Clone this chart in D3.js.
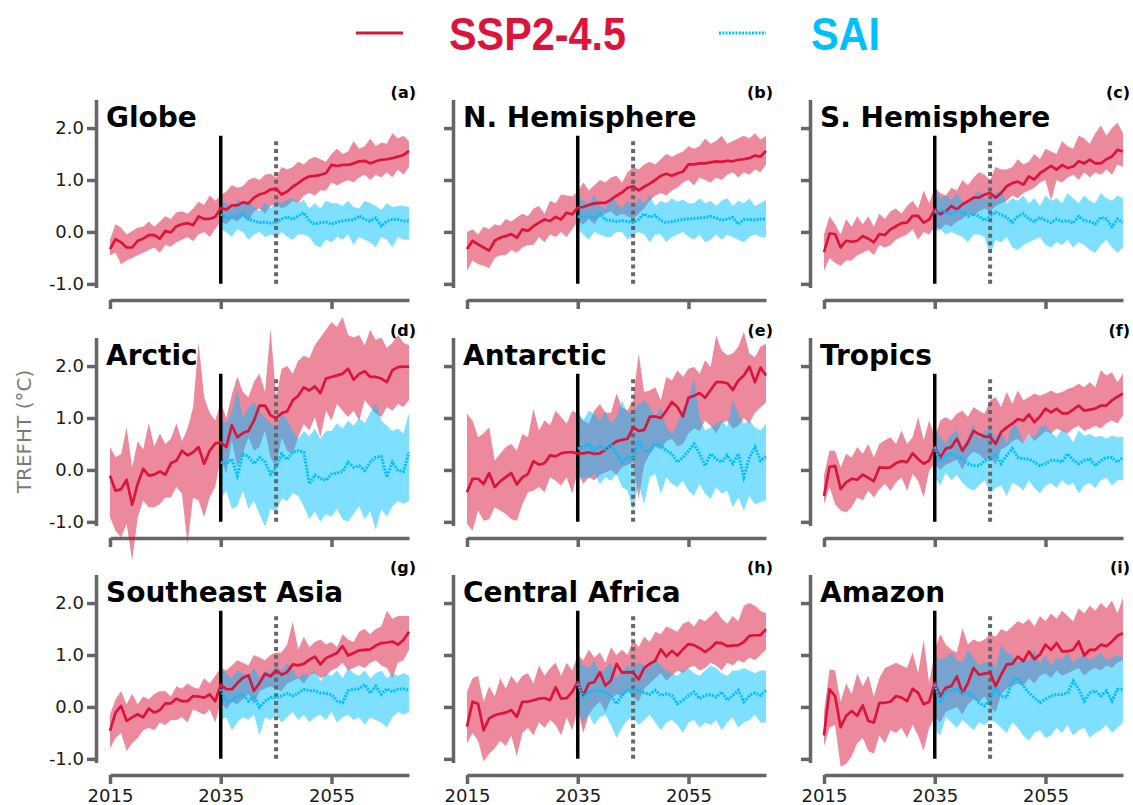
<!DOCTYPE html>
<html>
<head>
<meta charset="utf-8">
<script src="https://cdn.jsdelivr.net/npm/d3@7"></script>
<style>
  body { margin: 0; background: #fff; }
  svg { display: block; }
</style>
</head>
<body>
<svg id="chart" width="1133" height="805"></svg>
<script>
// ---- Years and ticks ----
const startYear = 2015, endYear = 2069, saiStart = 2035, saiFullYear = 2045;
const years = d3.range(startYear, endYear + 1);      // SSP2-4.5 runs
const saiYears = d3.range(saiStart, endYear + 1);    // SAI runs
const xTickYears = [2015, 2035, 2055];
const yTickValues = [-1, 0, 1, 2];

const regionNames = ["Globe", "N. Hemisphere", "S. Hemisphere", "Arctic", "Antarctic", "Tropics",
                     "Southeast Asia", "Central Africa", "Amazon"];
const panelLetters = ["(a)", "(b)", "(c)", "(d)", "(e)", "(f)", "(g)", "(h)", "(i)"];

// ---- Globe ----
const globeSspMean = [-0.33,-0.14,-0.20,-0.30,-0.30,-0.17,-0.13,-0.06,-0.06,-0.13, 0.02,-0.01,0.11,0.15,0.17,0.13,0.30,0.25,0.25,0.29, 0.46,0.43,0.51,0.51,0.57,0.55,0.66,0.72,0.75,0.82, 0.83,0.72,0.78,0.87,0.94,1.02,1.07,1.08,1.10,1.13, 1.29,1.27,1.29,1.29,1.32,1.36,1.37,1.32,1.36,1.39, 1.40,1.42,1.45,1.48,1.56];
const globeSspHigh = [-0.15,0.15,0.08,-0.05,0.02,0.08,0.10,0.20,0.10,0.20, 0.30,0.25,0.38,0.40,0.35,0.45,0.58,0.52,0.70,0.60, 0.70,0.78,0.90,0.85,0.88,1.00,1.05,1.00,1.10,1.12, 1.05,1.25,1.20,1.25,1.35,1.30,1.40,1.45,1.40,1.35, 1.50,1.60,1.50,1.55,1.75,1.60,1.65,1.80,1.65,1.72, 1.70,1.90,1.80,1.85,1.75];
const globeSspLow = [-0.45,-0.40,-0.62,-0.55,-0.50,-0.45,-0.40,-0.35,-0.30,-0.40, -0.25,-0.28,-0.20,-0.15,-0.10,-0.18,-0.05,0.00,-0.10,0.05, 0.20,0.15,0.25,0.20,0.30,0.20,0.40,0.45,0.35,0.50, 0.55,0.45,0.50,0.60,0.55,0.70,0.75,0.70,0.80,0.80, 0.95,0.90,0.95,1.00,0.95,1.05,1.10,1.00,1.10,1.05, 1.15,1.05,1.20,1.10,1.25];
const globeSaiMean = [0.34,0.27,0.30,0.29,0.34,0.25,0.21,0.18,0.19,0.17, 0.18,0.25,0.29,0.24,0.31,0.37,0.21,0.15,0.18,0.19, 0.15,0.19,0.21,0.23,0.23,0.31,0.24,0.21,0.27,0.11, 0.21,0.24,0.24,0.21,0.21];
const globeSaiHigh = [0.60,0.55,0.45,0.62,0.55,0.60,0.48,0.40,0.58,0.45, 0.60,0.55,0.62,0.65,0.55,0.62,0.45,0.55,0.45,0.60, 0.55,0.55,0.50,0.60,0.48,0.45,0.60,0.55,0.50,0.42, 0.55,0.48,0.50,0.50,0.48];
const globeSaiLow = [0.05,0.00,-0.10,0.05,0.00,-0.15,-0.05,0.00,-0.10,-0.05, -0.10,0.00,-0.10,-0.15,-0.05,-0.05,-0.10,-0.25,-0.30,-0.15, -0.20,-0.10,-0.15,-0.05,-0.25,-0.10,-0.15,-0.20,-0.30,-0.10, -0.15,-0.30,-0.10,-0.15,-0.15];

// ---- N. Hemisphere ----
const nhSspMean = [-0.33,-0.17,-0.24,-0.30,-0.36,-0.17,-0.11,-0.08,-0.04,-0.11, 0.05,0.02,0.11,0.18,0.24,0.21,0.29,0.24,0.37,0.34, 0.47,0.48,0.52,0.55,0.56,0.56,0.62,0.70,0.76,0.85, 0.88,0.80,0.87,0.93,1.00,1.08,1.12,1.08,1.13,1.16, 1.30,1.30,1.32,1.32,1.34,1.36,1.35,1.37,1.36,1.39, 1.40,1.42,1.47,1.45,1.56];
const nhSspHigh = [0.00,0.05,-0.05,0.10,0.05,0.15,0.12,0.25,0.20,0.28, 0.35,0.30,0.45,0.50,0.35,0.60,0.55,0.72,0.70,0.68, 0.78,0.95,0.80,0.90,1.00,0.95,1.05,1.08,0.95,1.15, 1.25,1.20,1.30,1.35,1.30,1.40,1.50,1.45,1.50,1.55, 1.65,1.60,1.65,1.80,1.70,1.75,1.85,1.70,1.75,1.80, 1.85,1.80,1.90,1.78,1.85];
const nhSspLow = [-0.75,-0.55,-0.62,-0.65,-0.70,-0.50,-0.45,-0.45,-0.35,-0.40, -0.30,-0.25,-0.25,-0.10,-0.20,-0.05,-0.10,0.00,-0.10,0.05, 0.20,0.15,0.25,0.15,0.30,0.35,0.40,0.30,0.35,0.30, 0.25,0.35,0.45,0.60,0.70,0.75,0.70,0.80,0.85,0.95, 1.00,0.90,1.05,1.00,0.95,1.05,1.00,1.10,1.15,1.05, 1.15,1.10,1.20,1.15,1.30];
const nhSaiMean = [0.30,0.28,0.30,0.26,0.35,0.23,0.22,0.20,0.22,0.20, 0.18,0.24,0.35,0.28,0.32,0.22,0.18,0.20,0.22,0.24, 0.25,0.26,0.27,0.28,0.30,0.27,0.22,0.25,0.28,0.15, 0.24,0.24,0.23,0.25,0.25];
const nhSaiHigh = [0.70,0.60,0.55,0.72,0.50,0.45,0.70,0.55,0.45,0.60, 0.50,0.65,0.55,0.70,0.50,0.60,0.55,0.65,0.58,0.62, 0.55,0.55,0.65,0.55,0.60,0.50,0.60,0.65,0.50,0.60, 0.55,0.65,0.50,0.55,0.62];
const nhSaiLow = [0.05,-0.05,-0.15,0.00,-0.05,-0.10,-0.10,0.00,0.00,-0.15, -0.05,0.00,-0.05,-0.20,-0.05,-0.05,-0.20,-0.10,-0.05,0.00, -0.10,-0.15,-0.05,-0.20,-0.15,-0.05,-0.15,-0.05,-0.10,-0.15, -0.20,-0.10,-0.05,-0.10,-0.10];

// ---- S. Hemisphere ----
const shSspMean = [-0.39,-0.03,-0.04,-0.30,-0.17,-0.19,-0.17,-0.08,-0.13,-0.20, -0.04,-0.06,0.05,0.11,0.17,0.18,0.31,0.31,0.18,0.24, 0.43,0.34,0.40,0.50,0.43,0.53,0.59,0.66,0.66,0.72, 0.75,0.66,0.75,0.88,0.94,0.97,0.91,1.07,1.01,1.13, 1.20,1.27,1.20,1.29,1.23,1.26,1.36,1.32,1.39,1.32, 1.32,1.40,1.45,1.58,1.55];
const shSspHigh = [-0.05,0.30,0.15,-0.05,0.25,0.10,0.30,0.15,0.30,0.10, 0.35,0.25,0.40,0.45,0.35,0.50,0.60,0.45,0.80,0.55, 0.85,0.75,0.70,0.85,0.80,1.00,0.90,1.05,1.15,1.10, 1.00,1.25,1.20,1.20,1.25,1.40,1.30,1.35,1.50,1.40, 1.60,1.55,1.50,1.75,1.65,1.60,1.85,1.80,1.70,1.90, 2.05,1.85,2.00,2.10,1.90];
const shSspLow = [-0.75,-0.50,-0.60,-0.65,-0.55,-0.55,-0.45,-0.40,-0.35,-0.45, -0.25,-0.30,-0.25,-0.15,-0.10,-0.05,0.05,-0.15,0.00,-0.05, 0.10,0.05,0.15,0.10,0.20,0.25,0.35,0.30,0.40,0.45, 0.40,0.50,0.55,0.60,0.70,0.65,0.75,0.80,0.85,0.95, 1.00,0.60,1.00,0.95,1.05,1.10,1.00,1.15,1.05,1.15, 1.10,1.20,1.10,1.30,1.25];
const shSaiMean = [0.37,0.42,0.38,0.35,0.40,0.38,0.30,0.35,0.30,0.22, 0.30,0.38,0.33,0.28,0.18,0.30,0.35,0.25,0.20,0.28, 0.22,0.18,0.25,0.20,0.22,0.17,0.30,0.22,0.20,0.15, 0.28,0.25,0.10,0.25,0.18];
const shSaiHigh = [0.90,0.65,0.70,0.60,0.75,0.60,0.55,0.70,0.80,0.65, 0.60,0.75,0.80,0.55,0.65,0.60,0.70,0.55,0.65,0.50, 0.70,0.60,0.65,0.55,0.75,0.65,0.55,0.70,0.60,0.55, 0.75,0.65,0.60,0.70,0.65];
const shSaiLow = [0.00,0.05,-0.05,0.00,-0.05,-0.10,-0.20,-0.05,-0.05,-0.10, -0.45,-0.15,-0.20,-0.10,-0.30,-0.35,-0.25,-0.20,-0.15,-0.10, -0.25,-0.30,-0.20,-0.25,-0.15,-0.30,-0.20,-0.25,-0.35,-0.40, -0.25,-0.15,-0.30,-0.40,-0.30];

// ---- Arctic ----
const arcticSspMean = [-0.11,-0.40,-0.37,-0.19,-0.67,-0.27,0.02,-0.11,-0.09,-0.03, -0.09,0.13,0.18,0.37,0.28,0.34,0.44,0.12,0.37,0.51, 0.53,0.44,0.86,0.63,0.71,0.75,0.95,1.24,1.24,1.05, 1.00,1.09,1.13,1.34,1.43,1.59,1.53,1.61,1.48,1.76, 1.79,1.82,1.85,1.95,1.74,1.85,1.90,1.79,1.79,1.76, 1.69,1.92,1.98,1.99,1.99];
const arcticSspHigh = [0.44,0.25,0.30,0.82,0.05,0.55,0.40,0.90,0.45,0.70, 0.50,0.60,0.90,0.55,0.80,1.20,2.45,1.40,1.10,0.95, 1.30,1.00,1.45,1.80,1.50,1.40,1.70,1.85,1.50,2.72, 1.40,1.95,2.00,1.85,2.10,2.20,2.15,2.40,2.55,2.70, 2.85,2.75,2.95,2.60,2.55,2.60,2.40,2.70,2.50,2.55, 2.35,2.45,2.60,2.45,2.40];
const arcticSspLow = [-0.91,-1.17,-1.30,-1.04,-1.75,-0.91,-0.59,-0.72,-0.72,-0.66, -0.53,-0.53,-0.33,-0.46,-1.43,-0.53,-0.59,-0.91,-0.53,-0.33, 0.24,-0.08,0.57,0.05,0.31,0.63,0.37,0.44,0.76,0.24, 0.05,0.63,0.37,0.31,0.63,0.89,0.76,1.02,0.63,1.14, 0.95,1.27,1.14,1.02,1.14,0.95,1.34,1.21,1.08,1.02, 1.21,1.14,1.27,1.21,1.34];
const arcticSaiMean = [0.15,0.12,0.21,-0.11,0.31,0.26,0.12,0.24,0.15,-0.08, 0.05,0.31,0.20,0.34,0.37,0.34,-0.27,-0.10,-0.16,-0.20, -0.08,-0.06,-0.03,0.15,0.05,0.08,-0.01,0.15,0.24,0.26, -0.14,0.15,-0.01,-0.03,0.34];
const arcticSaiHigh = [1.00,0.90,1.10,1.55,1.00,1.20,1.30,1.15,1.00,0.90, 0.80,1.10,0.95,0.75,0.60,0.75,0.65,0.80,0.60,0.75, 0.75,0.90,0.80,0.95,0.85,1.00,0.90,1.10,1.30,0.95, 0.85,0.75,0.80,0.70,1.10];
const arcticSaiLow = [-0.55,-0.40,-0.75,-0.70,-0.40,-0.75,-0.60,-0.85,-1.10,-0.75, -0.80,-0.55,-0.60,-0.45,-0.50,-0.70,-0.95,-0.80,-1.00,-0.85, -0.90,-0.75,-0.95,-1.00,-0.85,-0.70,-0.95,-0.80,-1.15,-0.75, -0.90,-0.70,-0.60,-0.65,-0.60];

// ---- Antarctic ----
const antarcticSspMean = [-0.43,-0.17,-0.17,-0.27,-0.06,-0.33,-0.22,-0.14,-0.06,-0.28, -0.14,-0.08,0.17,0.10,0.13,0.28,0.26,0.32,0.34,0.34, 0.32,0.32,0.34,0.31,0.32,0.39,0.47,0.55,0.58,0.60, 0.82,0.75,0.77,1.02,1.03,1.00,1.14,1.31,1.21,1.03, 1.39,1.43,1.48,1.39,1.54,1.69,1.69,1.67,1.54,1.72, 1.82,1.99,1.69,1.97,1.82];
const antarcticSspHigh = [1.08,0.95,0.63,0.70,0.82,0.18,0.31,0.44,0.50,0.37, 0.69,0.63,1.18,0.76,0.95,0.86,1.14,1.02,0.89,1.14, 1.08,0.95,0.89,1.14,1.27,1.10,1.10,1.47,1.20,1.15, 1.34,2.24,1.50,1.53,1.59,1.34,1.79,1.72,1.92,1.79, 1.95,1.98,1.85,2.11,1.98,2.59,2.30,2.21,2.24,2.37, 2.66,2.24,2.17,2.37,2.43];
const antarcticSspLow = [-1.04,-1.17,-0.78,-0.98,-0.95,-0.72,-0.78,-0.85,-0.95,-0.98, -0.66,-0.43,-0.40,-0.33,-0.43,-0.14,-0.21,-0.30,-0.14,-0.46, -0.01,-0.27,-0.14,-0.20,-0.10,-0.05,0.00,-0.10,0.05,0.10, 0.15,-0.55,0.10,0.30,0.45,0.40,0.55,0.60,0.45,0.50, 0.70,0.80,0.75,0.95,0.85,0.70,0.90,0.95,0.80,0.85, 1.00,0.90,1.10,1.20,1.30];
const antarcticSaiMean = [0.41,0.44,0.50,0.37,0.47,0.37,0.50,0.31,0.15,0.24, 0.21,0.57,0.37,0.37,0.50,0.47,0.37,0.31,0.15,0.24, 0.37,0.50,0.31,0.08,0.31,0.21,0.15,0.28,0.12,0.31, -0.14,0.24,0.44,0.18,0.26];
const antarcticSaiHigh = [1.14,0.95,1.14,1.08,0.95,1.14,0.89,1.02,1.34,1.08, 1.14,1.27,1.34,1.21,1.02,1.21,0.82,0.69,0.89,1.21, 1.34,1.79,1.02,0.76,0.82,0.89,0.95,0.82,1.34,1.08, 0.89,0.95,0.82,0.76,0.89];
const antarcticSaiLow = [-0.21,-0.14,-0.17,-0.08,-0.27,-0.14,-0.21,-0.08,-0.33,-0.40, -0.78,-0.27,-0.66,-0.14,-0.08,-0.46,-0.14,-0.27,-0.33,-0.21, -0.40,-0.50,-0.27,-0.46,-0.56,-0.33,-0.46,-0.40,-0.72,-0.53, -0.78,-0.50,-0.66,-0.62,-0.59];

// ---- Tropics ----
const tropicsSspMean = [-0.50,0.06,0.08,-0.37,-0.24,-0.17,-0.19,-0.09,-0.15,-0.22, 0.05,0.04,0.05,0.13,0.17,0.15,0.32,0.21,0.12,0.18, 0.44,0.24,0.41,0.44,0.60,0.37,0.53,0.75,0.69,0.64, 0.63,0.50,0.73,0.82,0.89,0.98,0.95,1.07,0.92,1.03, 1.18,1.11,1.18,1.09,1.09,1.16,1.24,1.14,1.16,1.18, 1.24,1.24,1.34,1.41,1.47];
const tropicsSspHigh = [-0.10,0.37,0.37,0.05,0.31,0.24,0.44,0.31,0.50,0.24, 0.50,0.57,0.63,0.50,0.76,0.50,0.63,1.02,0.57,0.95, 0.63,0.95,1.02,0.95,1.08,1.14,1.02,1.21,1.14,1.08, 1.34,1.40,1.21,1.50,1.27,1.53,1.34,1.40,1.47,1.43, 1.47,1.53,1.47,1.50,1.56,1.59,1.66,1.59,1.69,1.59, 1.92,1.82,1.88,1.69,1.85];
const tropicsSspLow = [-0.66,-0.33,-0.66,-0.78,-0.82,-0.72,-0.53,-0.59,-0.40,-0.53, -0.37,-0.27,-0.40,-0.24,-0.14,-0.40,-0.08,-0.21,-0.53,-0.01, 0.12,0.00,0.10,0.15,0.20,0.00,0.25,0.35,0.30,0.20, 0.25,0.10,0.40,0.45,0.55,0.60,0.50,0.70,0.55,0.65, 0.75,0.70,0.80,0.75,0.70,0.80,0.85,0.75,0.80,0.85, 0.80,0.90,0.95,0.90,1.05];
const tropicsSaiMean = [0.44,0.15,0.28,0.31,0.26,0.21,0.12,0.08,0.08,0.18, 0.21,0.31,0.12,0.28,0.41,0.24,0.21,0.21,0.15,0.08, 0.12,0.18,0.19,0.15,0.31,0.19,0.12,0.18,0.21,0.08, 0.18,0.24,0.24,0.15,0.24];
const tropicsSaiHigh = [0.82,0.63,0.50,0.69,0.76,0.44,0.63,0.89,0.57,0.76, 0.79,0.63,0.76,0.50,0.89,0.82,0.50,0.69,0.63,0.82, 0.86,0.73,0.63,0.79,0.69,0.53,0.76,0.66,0.69,0.63, 0.66,0.60,0.66,0.63,0.64];
const tropicsSaiLow = [-0.14,-0.30,-0.05,-0.20,-0.10,-0.25,-0.35,-0.40,-0.30,-0.20, -0.45,-0.35,-0.30,-0.50,-0.25,-0.30,-0.40,-0.20,-0.35,-0.45, -0.30,-0.25,-0.35,-0.20,-0.30,-0.25,-0.45,-0.30,-0.25,-0.35, -0.20,-0.15,-0.30,-0.20,-0.20];

// ---- Southeast Asia ----
const seAsiaSspMean = [-0.46,-0.11,0.02,-0.27,-0.20,-0.14,-0.20,-0.03,-0.11,-0.06, 0.07,0.07,0.16,0.11,0.11,0.21,0.20,0.18,0.24,0.11, 0.43,0.34,0.34,0.46,0.56,0.61,0.31,0.46,0.64,0.59, 0.71,0.62,0.67,0.82,0.80,0.83,0.91,0.97,0.82,0.94, 0.99,1.04,1.17,0.99,1.04,1.09,1.10,1.11,1.18,1.23, 1.24,1.26,1.20,1.29,1.45];
const seAsiaSspHigh = [-0.15,0.15,0.30,0.05,0.25,0.05,0.20,0.15,0.25,0.30, 0.30,0.20,0.40,0.35,0.45,0.38,0.35,0.55,0.45,0.60, 0.75,0.70,0.80,0.90,0.85,0.80,1.00,0.95,0.90,1.00, 1.05,1.05,1.20,1.64,1.10,1.35,1.15,1.25,1.30,1.20, 1.25,1.15,1.40,1.30,1.25,1.45,1.50,1.40,1.50,1.55, 1.85,1.70,1.75,1.75,1.75];
const seAsiaSspLow = [-0.80,-0.60,-0.50,-0.85,-0.70,-0.60,-0.45,-0.40,-0.45,-0.30, -0.35,-0.25,-0.25,-0.20,-0.30,-0.05,-0.10,-0.15,-0.05,-0.30, 0.10,-0.05,0.10,0.05,0.15,0.25,0.05,0.30,0.35,0.40, 0.35,0.30,0.45,0.50,0.55,0.45,0.60,0.65,0.55,0.60, 0.70,0.75,0.85,0.70,0.75,0.80,0.75,0.85,0.90,0.80, 0.75,0.55,0.85,0.90,1.10];
const seAsiaSaiMean = [0.34,0.11,0.11,0.21,0.24,0.11,0.21,-0.01,0.11,0.18, 0.18,0.21,0.26,0.21,0.27,0.34,0.31,0.31,0.27,0.26, 0.24,0.11,0.08,0.31,0.34,0.35,0.43,0.27,0.40,0.24, 0.35,0.29,0.34,0.35,0.32];
const seAsiaSaiHigh = [0.75,0.65,0.55,0.70,0.65,0.60,0.75,0.55,0.70,0.65, 0.80,0.70,0.85,0.70,0.55,0.65,0.60,0.70,0.50,0.65, 0.60,0.70,0.55,0.75,0.65,0.60,0.70,0.55,0.65,0.70, 0.55,0.65,0.60,0.65,0.60];
const seAsiaSaiLow = [-0.25,-0.20,-0.45,-0.30,-0.20,-0.25,-0.15,-0.55,-0.20,-0.25, -0.15,-0.30,-0.20,-0.10,-0.25,-0.15,-0.30,-0.20,-0.15,-0.25, -0.10,-0.30,-0.20,-0.15,-0.25,-0.20,-0.35,-0.20,-0.25,-0.30, -0.40,-0.20,-0.10,-0.15,-0.10];

// ---- Central Africa ----
const cAfricaSspMean = [-0.38,0.10,0.06,-0.45,-0.22,-0.16,-0.13,-0.11,-0.06,-0.19, 0.10,0.10,0.13,0.16,0.17,0.13,0.38,0.16,0.17,0.29, 0.48,0.22,0.45,0.48,0.67,0.41,0.51,0.83,0.66,0.67, 0.66,0.53,0.75,0.83,0.89,1.11,0.97,1.08,0.99,1.11, 1.21,1.19,1.13,1.06,1.13,1.24,1.23,1.17,1.18,1.19, 1.25,1.37,1.38,1.38,1.50];
const cAfricaSspHigh = [0.29,0.55,0.60,0.10,0.40,0.20,0.55,0.35,0.60,0.45, 0.60,0.65,0.45,0.80,0.60,0.75,0.85,0.60,0.85,0.70, 1.00,0.90,1.10,0.95,1.05,0.85,1.15,1.00,1.10,1.00, 1.30,1.15,1.35,1.25,1.45,1.40,1.55,1.50,1.45,1.60, 1.65,1.55,1.70,1.65,1.75,1.85,1.70,1.60,1.75,1.65, 1.95,2.00,1.95,1.85,1.80];
const cAfricaSspLow = [-0.70,-0.50,-0.65,-1.05,-0.90,-0.80,-0.65,-0.75,-0.55,-0.95, -0.50,-0.40,-0.55,-0.30,-0.40,-0.25,-0.35,-0.55,-0.20,-0.45, -0.05,-0.50,-0.15,0.00,0.10,-0.10,0.15,0.25,0.20,0.30, 0.20,0.10,0.35,0.45,0.55,0.65,0.50,0.60,0.70,0.65, 0.75,0.80,0.70,0.75,0.85,0.80,0.70,0.85,0.80,0.90, 0.85,0.95,0.90,1.00,1.10];
const cAfricaSaiMean = [0.45,0.19,0.29,0.32,0.30,0.29,0.22,0.06,0.22,0.32, 0.34,0.32,0.27,0.24,0.32,0.22,0.25,0.22,0.06,0.13, 0.22,0.29,0.16,0.22,0.24,0.19,0.29,0.13,0.22,0.32, 0.10,0.22,0.27,0.22,0.32];
const cAfricaSaiHigh = [0.95,0.80,0.75,0.90,0.65,0.75,0.85,0.55,0.70,0.80, 0.75,0.85,0.80,0.75,0.95,0.80,0.70,0.65,0.60,0.70, 0.75,0.65,0.60,0.70,0.80,0.75,0.65,0.60,0.70,0.70, 0.75,0.70,0.65,0.70,0.70];
const cAfricaSaiLow = [-0.05,-0.30,-0.15,-0.35,-0.20,-0.15,-0.35,-0.60,-0.40,-0.25, -0.20,-0.35,-0.25,-0.15,-0.30,-0.45,-0.30,-0.25,-0.35,-0.50, -0.30,-0.25,-0.40,-0.30,-0.35,-0.25,-0.45,-0.30,-0.20,-0.40, -0.30,-0.25,-0.15,-0.30,-0.30];

// ---- Amazon ----
const amazonSspMean = [-0.55,0.34,0.21,-0.39,-0.17,-0.08,-0.17,0.03,-0.27,-0.30, 0.08,0.08,0.10,0.21,0.18,0.11,0.35,0.27,0.05,0.10, 0.46,0.20,0.37,0.40,0.59,0.26,0.46,0.75,0.62,0.64, 0.66,0.40,0.62,0.82,0.83,0.97,0.88,1.07,0.92,1.01, 1.20,1.10,1.23,1.07,1.07,1.10,1.26,0.99,1.10,1.10, 1.20,1.17,1.26,1.37,1.42];
const amazonSspHigh = [-0.10,0.72,0.70,0.10,0.45,0.25,0.65,0.40,0.60,0.20, 0.55,0.75,0.80,0.85,0.80,0.75,1.05,0.65,1.30,0.45, 1.10,1.40,1.20,1.10,1.05,1.52,1.20,1.30,1.25,1.30, 1.40,1.35,1.50,1.45,1.55,1.65,1.60,1.70,1.55,1.75, 1.65,1.80,1.70,1.85,1.75,1.65,1.90,1.80,1.95,1.85, 2.00,1.90,2.05,1.80,2.10];
const amazonSspLow = [-0.75,-0.40,-0.35,-1.15,-1.10,-0.95,-0.70,-0.60,-0.85,-0.90, -0.55,-0.70,-0.45,-0.50,-0.40,-0.60,-0.35,-0.55,-0.85,-0.40, -0.20,-0.30,-0.10,-0.05,0.00,-0.15,0.05,0.15,0.10,0.20, 0.00,-0.10,0.25,0.35,0.40,0.45,0.40,0.55,0.45,0.60, 0.65,0.55,0.70,0.60,0.65,0.70,0.75,0.60,0.70,0.75, 0.70,0.80,0.75,0.85,0.90];
const amazonSaiMean = [0.43,0.08,0.31,0.31,0.34,0.27,0.27,0.21,0.08,0.02, 0.15,0.37,0.21,0.18,0.50,0.56,0.40,0.27,0.18,0.08, 0.15,0.21,0.24,0.24,0.27,0.50,0.34,0.11,0.27,0.31, 0.21,0.31,0.11,0.34,0.34];
const amazonSaiHigh = [1.00,0.90,0.95,1.05,0.90,0.85,1.10,0.95,0.80,0.85, 0.90,0.75,1.20,1.05,1.00,0.85,0.95,0.90,1.10,0.85, 1.00,0.80,0.95,0.90,1.05,0.85,0.95,1.00,0.90,0.95, 1.05,0.90,0.95,1.00,0.95];
const amazonSaiLow = [-0.45,-0.55,-0.20,-0.30,-0.40,-0.25,-0.35,-0.45,-0.30,-0.35, -0.25,-0.30,-0.40,-0.50,-0.30,-0.40,-0.55,-0.65,-0.50,-0.45, -0.60,-0.55,-0.40,-0.50,-0.35,-0.55,-0.45,-0.40,-0.60,-0.50, -0.45,-0.35,-0.50,-0.40,-0.30];

// ---- Panel table built from the arrays above ----
const sspSeries = [
  [globeSspMean, globeSspLow, globeSspHigh], [nhSspMean, nhSspLow, nhSspHigh], [shSspMean, shSspLow, shSspHigh],
  [arcticSspMean, arcticSspLow, arcticSspHigh], [antarcticSspMean, antarcticSspLow, antarcticSspHigh], [tropicsSspMean, tropicsSspLow, tropicsSspHigh],
  [seAsiaSspMean, seAsiaSspLow, seAsiaSspHigh], [cAfricaSspMean, cAfricaSspLow, cAfricaSspHigh], [amazonSspMean, amazonSspLow, amazonSspHigh]
];
const saiSeries = [
  [globeSaiMean, globeSaiLow, globeSaiHigh], [nhSaiMean, nhSaiLow, nhSaiHigh], [shSaiMean, shSaiLow, shSaiHigh],
  [arcticSaiMean, arcticSaiLow, arcticSaiHigh], [antarcticSaiMean, antarcticSaiLow, antarcticSaiHigh], [tropicsSaiMean, tropicsSaiLow, tropicsSaiHigh],
  [seAsiaSaiMean, seAsiaSaiLow, seAsiaSaiHigh], [cAfricaSaiMean, cAfricaSaiLow, cAfricaSaiHigh], [amazonSaiMean, amazonSaiLow, amazonSaiHigh]
];
const toRows = (yrs, [mean, low, high]) => yrs.map((yr, i) => ({ year: yr, mean: mean[i], low: low[i], high: high[i] }));
const panels = regionNames.map((name, k) => ({
  name, letter: panelLetters[k],
  ssp: toRows(years, sspSeries[k]),
  sai: toRows(saiYears, saiSeries[k])
}));

// ---- Styling ----
const RED = "#dc143c", BLUE = "#00bfff", SPINE = "#666666";
const TICK_FONT = "'DejaVu Sans', 'Liberation Sans', sans-serif";

// ---- Layout ----
const colLeft = [110, 467, 824];
const rowTop = [99.5, 337.5, 574.5];
const plotW = 299, plotH = 188;

const svg = d3.select("#chart");

const x = d3.scaleLinear().domain([startYear, endYear]).range([0, plotW]);
const y = d3.scaleLinear().domain([-1.07, 2.55]).range([plotH, 0]);

const area = d3.area().x(d => x(d.year)).y0(d => y(d.low)).y1(d => y(d.high));
const line = d3.line().x(d => x(d.year)).y(d => y(d.mean));

function styleAxis(g) {
  g.select(".domain").attr("stroke", SPINE).attr("stroke-width", 3.5);
  g.selectAll(".tick line").attr("stroke", SPINE).attr("stroke-width", 3.5);
  g.selectAll(".tick text").attr("fill", "#1a1a1a").style("font-family", TICK_FONT).style("font-size", "18px");
}

panels.forEach((p, k) => {
  const col = k % 3, row = Math.floor(k / 3);
  const g = svg.append("g").attr("transform", `translate(${colLeft[col]},${rowTop[row]})`);

  // y axis (offset spine)
  const yAxis = d3.axisLeft(y).tickValues(yTickValues).tickSize(9).tickSizeOuter(0).tickPadding(3)
    .tickFormat(col === 0 ? d => d.toFixed(1) : () => "");
  g.append("g").attr("transform", "translate(-14,0)").call(yAxis).call(styleAxis)
    .select(".domain").attr("fill", "none");

  // x axis (offset spine)
  const xAxis = d3.axisBottom(x).tickValues(xTickYears).tickSize(9).tickSizeOuter(0).tickPadding(5)
    .tickFormat(row === 2 ? d3.format("d") : () => "");
  g.append("g").attr("transform", `translate(0,${plotH + 12.5})`).call(xAxis).call(styleAxis);

  // uncertainty bands
  g.append("path").datum(p.ssp).attr("d", area).attr("fill", RED).attr("fill-opacity", 0.5);
  g.append("path").datum(p.sai).attr("d", area).attr("fill", BLUE).attr("fill-opacity", 0.5);

  // deployment start and full-effect markers
  g.append("line").attr("x1", x(saiStart)).attr("x2", x(saiStart))
    .attr("y1", y(-1.0)).attr("y2", y(1.85))
    .attr("stroke", "#000").attr("stroke-width", 3.5);
  g.append("line").attr("x1", x(saiFullYear)).attr("x2", x(saiFullYear))
    .attr("y1", y(-1.0)).attr("y2", y(1.8))
    .attr("stroke", SPINE).attr("stroke-width", 4).attr("stroke-dasharray", "4,3.7");

  // ensemble means
  g.append("path").datum(p.ssp).attr("d", line).attr("fill", "none")
    .attr("stroke", RED).attr("stroke-width", 2.7).attr("stroke-linejoin", "round");
  g.append("path").datum(p.sai).attr("d", line).attr("fill", "none")
    .attr("stroke", BLUE).attr("stroke-width", 3).attr("stroke-dasharray", "2,1.3");

  // region title and panel letter
  g.append("text").attr("x", -4).attr("y", 27.5).text(p.name)
    .style("font-family", "'DejaVu Sans', sans-serif").style("font-weight", "bold").style("font-size", "28px")
    .attr("fill", "#000");
  g.append("text").attr("x", plotW + 7).attr("y", -1.5).attr("text-anchor", "end").text(p.letter)
    .style("font-family", "'DejaVu Sans', sans-serif").style("font-weight", "bold").style("font-size", "16px")
    .attr("fill", "#000");
});

// shared y label
svg.append("text")
  .attr("transform", `translate(24,${rowTop[1] + plotH / 2}) rotate(-90)`)
  .attr("text-anchor", "middle").attr("dominant-baseline", "central")
  .style("font-family", TICK_FONT).style("font-size", "20px").attr("fill", "#7a7a7a")
  .text("TREFHT (°C)");

// legend
const legendFont = "'Liberation Sans Narrow', 'Liberation Sans', Arial, sans-serif";
const legend = svg.append("g");
legend.append("line").attr("x1", 356).attr("x2", 403).attr("y1", 33).attr("y2", 33)
  .attr("stroke", RED).attr("stroke-width", 3);
legend.append("text").attr("x", 449).attr("y", 50).text("SSP2-4.5")
  .attr("textLength", 177).attr("lengthAdjust", "spacingAndGlyphs")
  .style("font-family", legendFont).style("font-weight", "bold").style("font-size", "46px").attr("fill", RED);
legend.append("line").attr("x1", 719).attr("x2", 766).attr("y1", 33).attr("y2", 33)
  .attr("stroke", BLUE).attr("stroke-width", 3).attr("stroke-dasharray", "2,1.3");
legend.append("text").attr("x", 811).attr("y", 50).text("SAI")
  .attr("textLength", 69).attr("lengthAdjust", "spacingAndGlyphs")
  .style("font-family", legendFont).style("font-weight", "bold").style("font-size", "46px").attr("fill", BLUE);
</script>
</body>
</html>
